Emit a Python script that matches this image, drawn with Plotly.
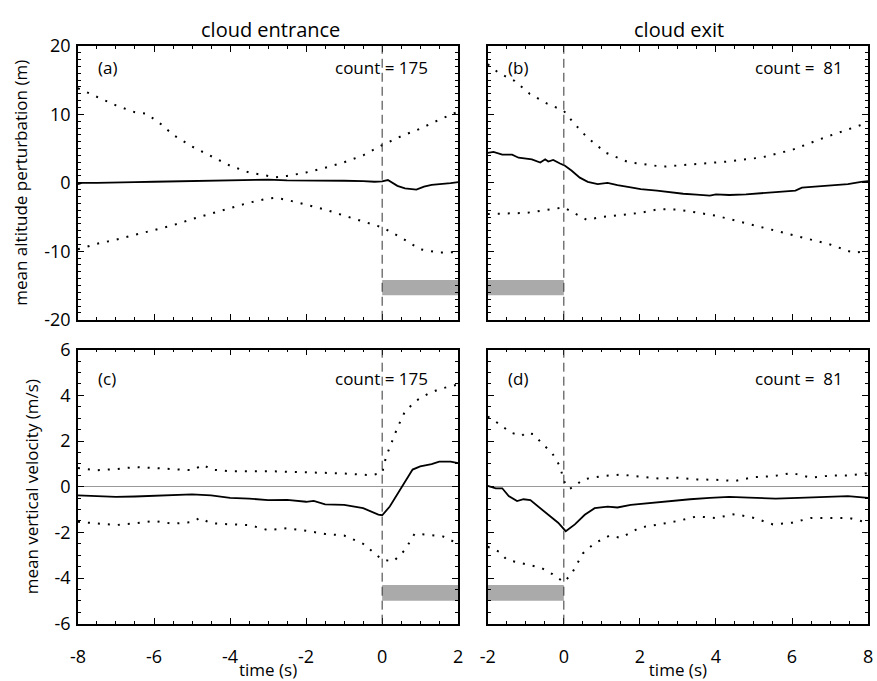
import plotly.graph_objects as go

# ---------------- data ----------------
# (a) cloud entrance, altitude perturbation (m)
t_a_mean = [-8, -7.9, -7.5, -7, -6.5, -6, -5.5, -5, -4.5, -4, -3.5, -3, -2.5, -2, -1.5, -1, -0.5, -0.2, 0, 0.15, 0.4, 0.6, 0.9, 1.1, 1.3, 1.6, 1.8, 2]
a_mean = [-0.2, 0.0, 0.0, 0.0, 0.1, 0.15, 0.2, 0.25, 0.3, 0.45, 0.4, 0.45, 0.35, 0.35, 0.4, 0.3, 0.25, 0.15, 0.2, 0.4, -0.45, -0.8, -1.0, -0.55, -0.3, -0.2, -0.05, 0.1]
t_a_band = [-8, -7.5, -7, -6.5, -6.2, -5.8, -5.5, -5, -4.5, -4, -3.5, -3, -2.8, -2.5, -2, -1.5, -1, -0.5, 0, 0.5, 1, 1.5, 2]
a_upper = [13.8, 12.5, 11.3, 10.3, 10.1, 8.5, 7.0, 5.3, 3.9, 2.5, 1.5, 0.95, 0.8, 1.0, 1.5, 2.2, 3.0, 4.0, 5.5, 6.8, 7.9, 9.2, 10.4]
a_lower = [-9.7, -8.9, -8.3, -7.6, -7.2, -6.6, -6.2, -5.3, -4.5, -3.8, -2.9, -2.3, -2.2, -2.5, -3.2, -3.9, -4.8, -5.6, -6.5, -8.0, -9.7, -10.2, -10.1]

# (b) cloud exit, altitude perturbation (m)
t_b_mean = [-2, -1.85, -1.62, -1.36, -1.19, -0.84, -0.62, -0.49, -0.41, -0.28, -0.1, 0.03, 0.2, 0.42, 0.63, 0.89, 1.15, 1.41,
            1.76, 2.02, 2.45, 2.8, 3.14, 3.49, 3.84, 4.0, 4.35, 4.79, 5.13, 5.57, 6.09, 6.26, 6.6, 7.04, 7.47, 7.82, 8]
b_mean = [4.37, 4.5, 4.1, 4.1, 3.66, 3.43, 2.96, 3.43, 3.1, 3.33, 2.82, 2.49, 1.8, 0.75, 0.14, -0.19, 0.0, -0.33,
          -0.66, -0.94, -1.13, -1.41, -1.6, -1.74, -1.88, -1.69, -1.78, -1.69, -1.5, -1.36, -1.13, -0.7, -0.56, -0.42, -0.19, 0.14, 0.23]
t_b_band = [-2, -1.7, -1.3, -0.9, -0.45, 0, 0.25, 0.6, 1.1, 1.7, 2.6, 3.45, 4.3, 5.2, 6.0, 6.9, 8]
b_upper = [17.3, 16.0, 14.9, 13.0, 11.6, 10.5, 8.8, 6.7, 4.4, 3.0, 2.35, 2.7, 3.1, 3.7, 4.8, 6.7, 8.8]
t_b_low = [-2, -1, 0, 0.3, 0.6, 1, 2, 2.5, 3, 4, 5, 6, 7, 7.6, 8]
b_lower = [-4.55, -4.4, -3.6, -4.55, -5.4, -5.0, -4.4, -3.85, -3.9, -4.8, -6.2, -7.6, -9.0, -10.2, -10.0]

# (c) cloud entrance, vertical velocity (m/s)
t_c_mean = [-8, -7.5, -7, -6.5, -6, -5.5, -5, -4.5, -4, -3.5, -3, -2.5, -2, -1.8, -1.5, -1, -0.5, -0.1, 0, 0.2, 0.5, 0.8, 1, 1.3, 1.5, 1.8, 2]
c_mean = [-0.38, -0.42, -0.45, -0.43, -0.41, -0.37, -0.34, -0.38, -0.49, -0.52, -0.59, -0.58, -0.66, -0.62, -0.77, -0.8, -0.94, -1.22, -1.25, -0.87, -0.03, 0.75, 0.89, 0.99, 1.1, 1.1, 1.03]
t_c_up = [-8, -7.5, -7, -6.5, -6, -5.5, -5, -4.7, -4.5, -4, -3, -2, -1, -0.3, 0, 0.1, 0.2, 0.4, 0.6, 0.9, 1.2, 1.5, 1.8, 2]
c_upper = [0.82, 0.72, 0.77, 0.86, 0.82, 0.77, 0.72, 0.96, 0.75, 0.68, 0.68, 0.63, 0.58, 0.5, 0.6, 1.3, 1.73, 2.58, 3.3, 3.77, 4.06, 4.27, 4.4, 4.48]
t_c_low = [-8, -7.5, -7, -6.5, -6, -5.5, -5, -4.8, -4.5, -4, -3.5, -3, -2.5, -2, -1.5, -1, -0.5, -0.1, 0, 0.3, 0.6, 0.85, 1.2, 1.6, 2]
c_lower = [-1.54, -1.62, -1.68, -1.6, -1.5, -1.62, -1.55, -1.37, -1.6, -1.65, -1.68, -1.9, -1.82, -1.93, -2.07, -2.14, -2.5, -3.06, -3.2, -3.27, -2.77, -2.07, -2.1, -2.18, -2.5]

# (d) cloud exit, vertical velocity (m/s)
t_d_mean = [-2, -1.79, -1.62, -1.45, -1.23, -1.06, -0.88, -0.67, -0.41, -0.15, 0.05, 0.29, 0.55, 0.81, 1.15, 1.41, 1.76,
            2.28, 2.8, 3.32, 3.84, 4.35, 4.87, 5.57, 6.17, 6.78, 7.47, 8]
d_mean = [0.04, -0.07, -0.07, -0.41, -0.63, -0.55, -0.59, -0.87, -1.23, -1.58, -1.95, -1.65, -1.23, -0.94, -0.87, -0.91, -0.8,
          -0.71, -0.63, -0.55, -0.49, -0.45, -0.48, -0.52, -0.49, -0.46, -0.41, -0.49]
t_d_up = [-2, -1.7, -1.4, -1.1, -1, -0.8, -0.6, -0.3, -0.1, 0, 0.15, 0.3, 0.5, 1, 1.5, 2, 2.5, 3, 3.5, 4, 4.5, 5, 5.5, 6, 6.5, 7, 7.5, 8]
d_upper = [3.07, 2.75, 2.37, 2.23, 2.37, 2.3, 1.94, 1.45, 0.89, 0.25, -0.1, 0.04, 0.32, 0.46, 0.53, 0.46, 0.36, 0.39, 0.32, 0.3, 0.25, 0.42, 0.46, 0.6, 0.39, 0.49, 0.49, 0.6]
t_d_low = [-2, -1.7, -1.5, -1, -0.6, -0.3, 0, 0.2, 0.5, 0.8, 1.2, 1.5, 2, 2.5, 3, 3.5, 4, 4.5, 5, 5.5, 6, 6.5, 7, 7.5, 8]
d_lower = [-2.63, -2.85, -3.2, -3.41, -3.55, -3.83, -4.18, -3.83, -2.92, -2.49, -2.14, -2.24, -1.79, -1.65, -1.5, -1.3, -1.37, -1.2, -1.37, -1.65, -1.58, -1.37, -1.37, -1.37, -1.58]

# sample counts and the time span spent inside the cloud (grey bars)
count_entrance = 175
count_exit = 81
bar_entrance_t = [0, 2]
bar_exit_t = [-2, 0]
bar_alt = [-16.4, -14.2]
bar_vel = [-5.0, -4.3]

# tick positions and labels (plain hyphen minus signs)
ticks_t_entrance = [-8, -6, -4, -2, 0, 2]
ticks_t_exit = [-2, 0, 2, 4, 6, 8]
ticks_alt = [-20, -10, 0, 10, 20]
ticks_vel = [-6, -4, -2, 0, 2, 4, 6]

def tick_text(vals):
    return [str(v) for v in vals]

# ---------------- figure ----------------
W, H = 877, 681
FONT = "Open Sans"
fig = go.Figure()

panels = [
    # xaxis, yaxis, (t, mean), (t, upper), (t, lower), bar t, bar y
    ("x", "y", (t_a_mean, a_mean), (t_a_band, a_upper), (t_a_band, a_lower), bar_entrance_t, bar_alt),
    ("x2", "y2", (t_b_mean, b_mean), (t_b_band, b_upper), (t_b_low, b_lower), bar_exit_t, bar_alt),
    ("x3", "y3", (t_c_mean, c_mean), (t_c_up, c_upper), (t_c_low, c_lower), bar_entrance_t, bar_vel),
    ("x4", "y4", (t_d_mean, d_mean), (t_d_up, d_upper), (t_d_low, d_lower), bar_exit_t, bar_vel),
]

for xa, ya, mean, up, low, bt, by in panels:
    # in-cloud interval bar
    fig.add_trace(go.Scatter(x=[bt[0], bt[1], bt[1], bt[0], bt[0]],
                             y=[by[0], by[0], by[1], by[1], by[0]],
                             fill="toself", fillcolor="#aaaaaa", mode="lines",
                             line=dict(width=0, color="#aaaaaa"),
                             xaxis=xa, yaxis=ya, showlegend=False, hoverinfo="skip"))
    for t, v in (up, low):
        fig.add_trace(go.Scatter(x=t, y=v, mode="lines",
                                 line=dict(color="black", width=2, dash="2px,8px"),
                                 xaxis=xa, yaxis=ya, showlegend=False))
    fig.add_trace(go.Scatter(x=mean[0], y=mean[1], mode="lines",
                             line=dict(color="black", width=1.8),
                             xaxis=xa, yaxis=ya, showlegend=False))

# axes geometry (pixels -> paper fractions)
def fx(px):
    return px / W

def fy(py):
    return 1 - py / H

xdom_left = [fx(71), fx(457)]
xdom_right = [fx(487), fx(873)]
ydom_top = [fy(318), fy(34)]
ydom_bot = [fy(633), fy(349)]

TICKFONT = dict(family=FONT, size=18, color="black")
TITLEFONT = dict(family=FONT, size=17, color="black")

axis_common = dict(showline=True, linecolor="black", linewidth=1.5, mirror="allticks",
                   ticks="inside", ticklen=6, tickwidth=1.3, tickcolor="black",
                   showgrid=False, zeroline=False, tickfont=TICKFONT, tickmode="array")

def xaxis(dom, rng, tv, labels, anchor):
    d = dict(axis_common, domain=dom, range=rng, tickvals=tv, ticktext=tick_text(tv),
             anchor=anchor, showticklabels=labels)
    if labels:
        d["ticklabelstandoff"] = 16
        d["title"] = dict(text="time (s)", font=TITLEFONT, standoff=0)
    return d

def yaxis(dom, rng, tv, labels, anchor, title, zero):
    d = dict(axis_common, domain=dom, range=rng, tickvals=tv, ticktext=tick_text(tv),
             anchor=anchor, showticklabels=labels)
    if labels:
        d["ticklabelstandoff"] = 2
    if zero:
        d.update(zeroline=True, zerolinecolor="#9a9a9a", zerolinewidth=1)
    if title:
        d["title"] = dict(text=title, font=TITLEFONT, standoff=12)
    return d

# short minor ticks on overlaid axes sharing each panel's frame
def minor_axis(rng, dt, over, anchor):
    return dict(overlaying=over, anchor=anchor, range=rng, dtick=dt, tick0=0,
                showline=True, linecolor="black", linewidth=1.5, mirror="allticks",
                ticks="inside", ticklen=3, tickwidth=1.2, tickcolor="black",
                showticklabels=False, showgrid=False, zeroline=False)

fig.update_layout(
    width=W, height=H,
    margin=dict(l=0, r=0, t=0, b=0),
    paper_bgcolor="white", plot_bgcolor="white",
    xaxis=xaxis(xdom_left, [-8, 2], ticks_t_entrance, False, "y"),
    xaxis2=xaxis(xdom_right, [-2, 8], ticks_t_exit, False, "y2"),
    xaxis3=xaxis(xdom_left, [-8, 2], ticks_t_entrance, True, "y3"),
    xaxis4=xaxis(xdom_right, [-2, 8], ticks_t_exit, True, "y4"),
    yaxis=yaxis(ydom_top, [-20, 20], ticks_alt, True, "x", "mean altitude perturbation (m)", False),
    yaxis2=yaxis(ydom_top, [-20, 20], ticks_alt, False, "x2", None, False),
    yaxis3=yaxis(ydom_bot, [-6, 6], ticks_vel, True, "x3", "mean vertical velocity (m/s)", True),
    yaxis4=yaxis(ydom_bot, [-6, 6], ticks_vel, False, "x4", None, True),
    xaxis5=minor_axis([-8, 2], 0.5, "x", "y5"),
    xaxis6=minor_axis([-2, 8], 0.5, "x2", "y6"),
    xaxis7=minor_axis([-8, 2], 0.5, "x3", "y7"),
    xaxis8=minor_axis([-2, 8], 0.5, "x4", "y8"),
    yaxis5=minor_axis([-20, 20], 1, "y", "x5"),
    yaxis6=minor_axis([-20, 20], 1, "y2", "x6"),
    yaxis7=minor_axis([-6, 6], 0.5, "y3", "x7"),
    yaxis8=minor_axis([-6, 6], 0.5, "y4", "x8"),
)
for k in range(5, 9):
    fig.add_trace(go.Scatter(x=[None], y=[None], xaxis=f"x{k}", yaxis=f"y{k}",
                             showlegend=False, hoverinfo="skip"))

# dashed marker of cloud edge (t = 0)
for xa, ya in (("x", "y"), ("x2", "y2"), ("x3", "y3"), ("x4", "y4")):
    fig.add_shape(type="line", xref=xa, yref=ya + " domain", x0=0, x1=0, y0=0, y1=1,
                  line=dict(color="#333333", width=1, dash="9px,5px"))

# panel labels and counts
txt = dict(family=FONT, size=17, color="black")
labels = [("x", "y", "(a)", f"count = {count_entrance}", 0.925),
          ("x2", "y2", "(b)", f"count = \u00a0{count_exit}", 0.940),
          ("x3", "y3", "(c)", f"count = {count_entrance}", 0.925),
          ("x4", "y4", "(d)", f"count = \u00a0{count_exit}", 0.940)]
for xa, ya, lab, cnt, cx in labels:
    yy = 0.919 if ya in ("y", "y2") else 0.894
    fig.add_annotation(xref=xa + " domain", yref=ya + " domain", x=0.048, y=yy,
                       text=lab, showarrow=False, xanchor="left", yanchor="middle", font=txt)
    fig.add_annotation(xref=xa + " domain", yref=ya + " domain", x=cx, y=yy,
                       text=cnt, showarrow=False, xanchor="right", yanchor="middle", font=txt)

# column headings
for xc, head in ((fx(266), "cloud entrance"), (fx(681), "cloud exit")):
    fig.add_annotation(xref="paper", yref="paper", x=xc, y=fy(17), text=head,
                       showarrow=False, xanchor="center", yanchor="middle",
                       font=dict(family=FONT, size=20, color="black"))

fig.write_html("out.html")
